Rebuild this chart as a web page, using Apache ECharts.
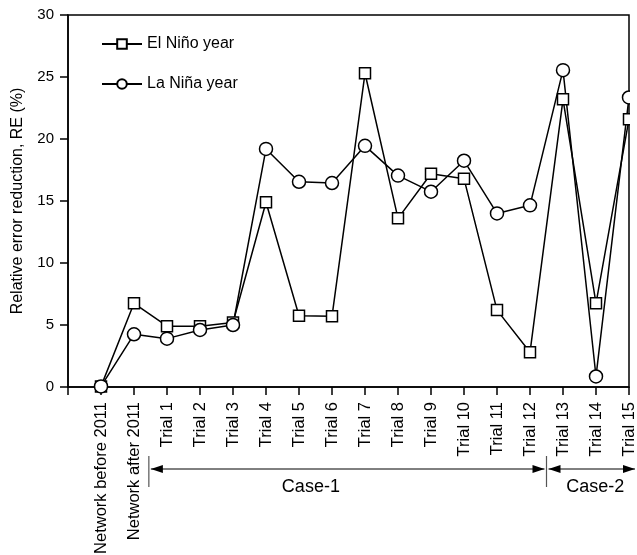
<!DOCTYPE html>
<html>
<head>
<meta charset="utf-8">
<script src="https://cdn.jsdelivr.net/npm/echarts@6/dist/echarts.min.js"></script>
<style>
  html, body { margin: 0; padding: 0; background: #fff; }
  #chart { width: 637px; height: 555px; }
</style>
</head>
<body>
<div id="chart"></div>
<script>
  var categories = ['Network before 2011', 'Network after 2011', 'Trial 1', 'Trial 2', 'Trial 3', 'Trial 4',
    'Trial 5', 'Trial 6', 'Trial 7', 'Trial 8', 'Trial 9', 'Trial 10', 'Trial 11', 'Trial 12',
    'Trial 13', 'Trial 14', 'Trial 15'];
  var elNino = [0.05, 6.75, 4.9, 4.9, 5.2, 14.9, 5.75, 5.7, 25.3, 13.6, 17.2, 16.8, 6.2, 2.8, 23.2, 6.75, 21.6];
  var laNina = [0.05, 4.25, 3.9, 4.6, 5.0, 19.2, 16.55, 16.45, 19.45, 17.05, 15.75, 18.25, 14.0, 14.65, 25.55, 0.85, 23.35];
  var caseGroups = [
    { name: 'Case-1', from: 1.45, to: 13.5, labelAt: 6.36 },
    { name: 'Case-2', from: 13.5, to: 16.3, labelAt: 14.98 }
  ];

  var font = 'Liberation Sans, Arial, sans-serif';
  var chart = echarts.init(document.getElementById('chart'));

  function toPairs(arr) {
    return arr.map(function (v, i) { return [i, v]; });
  }

  var option = {
    animation: false,
    textStyle: { fontFamily: font, color: '#000' },
    grid: {
      left: 68, top: 15, right: 8, bottom: 168,
      containLabel: false, outerBoundsMode: 'none',
      show: true, borderColor: '#000', borderWidth: 1.5, backgroundColor: 'transparent'
    },
    legend: {
      orient: 'vertical',
      left: 96, top: 31,
      itemWidth: 40, itemHeight: 12, itemGap: 24,
      textStyle: { fontFamily: font, fontSize: 16, color: '#000' },
      data: ['El Niño year', 'La Niña year']
    },
    xAxis: {
      type: 'value',
      min: -1, max: 16, interval: 1,
      splitLine: { show: false },
      axisLine: { onZero: false, lineStyle: { color: '#000', width: 1.5 } },
      axisTick: { length: 8, lineStyle: { color: '#000', width: 1.5 } },
      axisLabel: {
        rotate: 90, margin: 15, fontSize: 16.5, color: '#000', fontFamily: font,
        formatter: function (v) { return categories[v] || ''; }
      }
    },
    yAxis: {
      type: 'value',
      min: 0, max: 30, interval: 5,
      name: 'Relative error reduction, RE (%)',
      nameLocation: 'middle', nameGap: 42,
      nameTextStyle: { fontSize: 16, color: '#000', fontFamily: font },
      splitLine: { show: false },
      axisLine: { show: true, onZero: false, lineStyle: { color: '#000', width: 1.5 } },
      axisTick: { show: true, length: 8, lineStyle: { color: '#000', width: 1.5 } },
      axisLabel: { margin: 14, fontSize: 15, color: '#000', fontFamily: font }
    },
    series: [
      {
        name: 'El Niño year', type: 'line', data: toPairs(elNino),
        symbol: 'rect', symbolSize: 11, showAllSymbol: true,
        lineStyle: { color: '#000', width: 1.5 },
        itemStyle: { color: '#fff', borderColor: '#000', borderWidth: 1.5 }
      },
      {
        name: 'La Niña year', type: 'line', data: toPairs(laNina),
        symbol: 'circle', symbolSize: 13, showAllSymbol: true,
        lineStyle: { color: '#000', width: 1.5 },
        itemStyle: { color: '#fff', borderColor: '#000', borderWidth: 1.5 }
      }
    ]
  };
  chart.setOption(option);

  // case brackets below the axis labels
  var yLine = 469, yTop = 456, yBot = 487;
  var graphics = [
    { type: 'rect', shape: { x: 630, y: 0, width: 10, height: 386 }, style: { fill: '#fff' }, z: 100, silent: true }
  ];
  function arrowHead(tipX, dir) {
    return {
      type: 'polygon', z: 100,
      shape: { points: [[tipX, yLine], [tipX - dir * 12, yLine - 4], [tipX - dir * 12, yLine + 4]] },
      style: { fill: '#000' }
    };
  }
  caseGroups.forEach(function (g) {
    var x1 = chart.convertToPixel({ xAxisIndex: 0 }, g.from);
    var x2 = Math.min(chart.convertToPixel({ xAxisIndex: 0 }, g.to), 637);
    var a = x1 + 2, b = x2 - 2;
    graphics.push({ type: 'line', z: 100, shape: { x1: a, y1: yLine, x2: b, y2: yLine }, style: { stroke: '#000', lineWidth: 1 } });
    graphics.push(arrowHead(a, -1));
    graphics.push(arrowHead(b, 1));
    graphics.push({
      type: 'text', z: 100, x: chart.convertToPixel({ xAxisIndex: 0 }, g.labelAt), y: 487,
      style: { text: g.name, font: '18px ' + font, fill: '#000', align: 'center', verticalAlign: 'middle' }
    });
    graphics.push({ type: 'line', z: 100, shape: { x1: x1, y1: yTop, x2: x1, y2: yBot }, style: { stroke: '#555', lineWidth: 1.2 } });
  });
  chart.setOption({ graphic: graphics });
</script>
</body>
</html>
